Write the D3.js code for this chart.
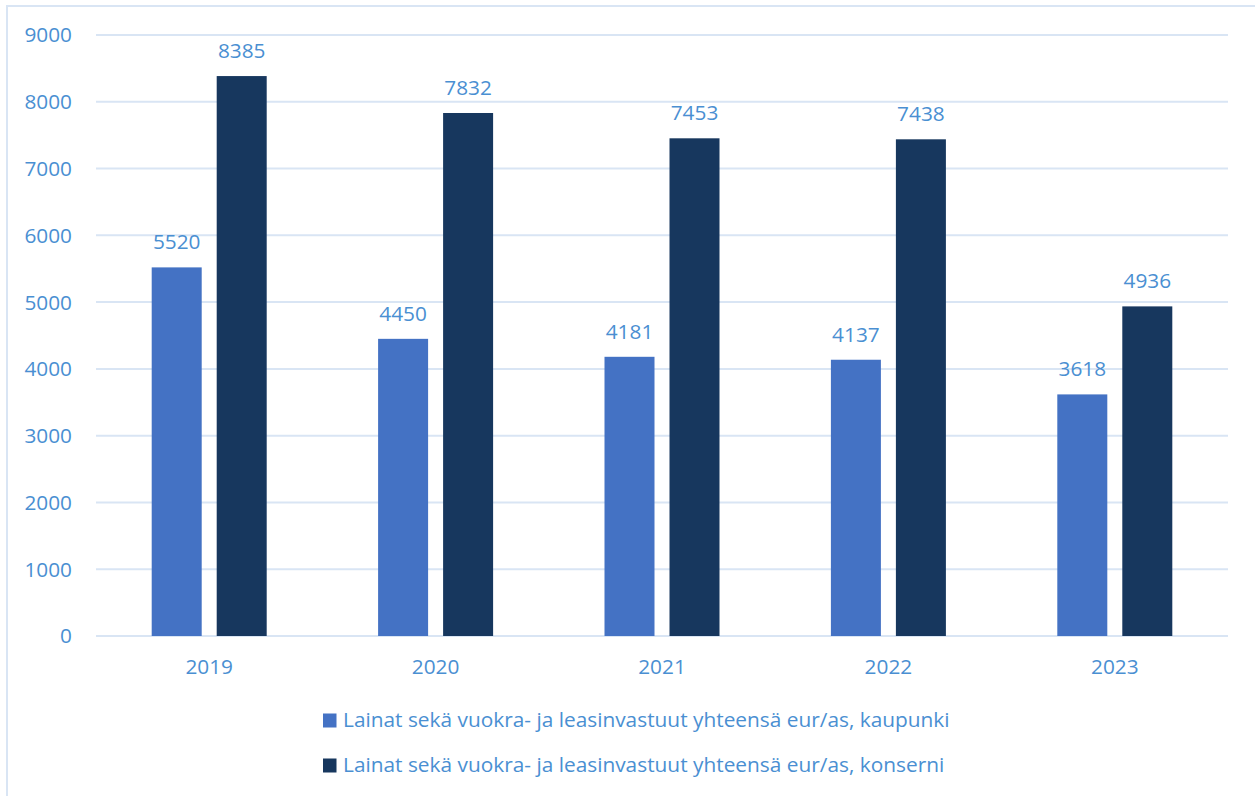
<!DOCTYPE html>
<html><head><meta charset="utf-8">
<script src="https://cdn.jsdelivr.net/npm/d3@7"></script>
<style>html,body{margin:0;padding:0;background:#fff;overflow:hidden}</style>
</head><body>
<svg id="c" width="1255" height="796"></svg>
<script>
const years = ["2019","2020","2021","2022","2023"];
const kaupunki = [5520, 4450, 4181, 4137, 3618];
const konserni = [8385, 7832, 7453, 7438, 4936];
const seriesNames = [
  "Lainat sekä vuokra- ja leasinvastuut yhteensä eur/as, kaupunki",
  "Lainat sekä vuokra- ja leasinvastuut yhteensä eur/as, konserni"
];
const seriesColors = ["#4472C4", "#17375E"];
const yTicks = [0,1000,2000,3000,4000,5000,6000,7000,8000,9000];

(function(){
const textColor = "#4a8fd2";
const gridColor = "#d9e5f4";
const font = "'Open Sans', Lato, sans-serif";
const svg = d3.select("#c");

svg.append("rect").attr("x",7).attr("y",6).attr("width",1300).attr("height",900)
  .attr("fill","none").attr("stroke",gridColor).attr("stroke-width",2);

const pL = 96, pR = 1228, pT = 35, pB = 636;
const x = d3.scaleBand().domain(years).range([pL,pR]);
const y = d3.scaleLinear().domain([0,9000]).range([pB,pT]);
const barW = 50, offset = 32.5;

svg.append("g").selectAll("line").data(yTicks).join("line")
  .attr("x1",pL).attr("x2",pR)
  .attr("y1",d=>y(d)).attr("y2",d=>y(d))
  .attr("stroke",gridColor).attr("stroke-width",2);

svg.append("g").selectAll("text").data(yTicks).join("text")
  .attr("x",72).attr("y",d=>y(d)).attr("dy","0.36em")
  .attr("text-anchor","end").attr("fill",textColor)
  .attr("font-family",font).attr("font-size",20.8)
  .text(d=>d);

svg.append("g").selectAll("text").data(years).join("text")
  .attr("x",d=>x(d)+x.bandwidth()/2).attr("y",674)
  .attr("text-anchor","middle").attr("fill",textColor)
  .attr("font-family",font).attr("font-size",20.8)
  .text(d=>d);

const series = [kaupunki, konserni];
series.forEach((vals, si) => {
  const g = svg.append("g");
  const cx = i => x(years[i]) + x.bandwidth()/2 + (si===0 ? -offset : offset);
  g.selectAll("rect").data(vals).join("rect")
    .attr("x",(d,i)=>cx(i)-barW/2).attr("width",barW)
    .attr("y",d=>y(d)).attr("height",d=>pB-y(d))
    .attr("fill",seriesColors[si]);
  g.selectAll("text").data(vals).join("text")
    .attr("x",(d,i)=>cx(i)).attr("y",d=>y(d)-18)
    .attr("text-anchor","middle").attr("fill",textColor)
    .attr("font-family",font).attr("font-size",20.8)
    .text(d=>d);
});

const lg = svg.append("g");
const legY = [727, 772];
seriesNames.forEach((n,i)=>{
  lg.append("rect").attr("x",323).attr("y",legY[i]-13.5).attr("width",13.5).attr("height",14)
    .attr("fill",seriesColors[i]);
  lg.append("text").attr("x",343).attr("y",legY[i])
    .attr("fill",textColor).attr("font-family",font).attr("font-size",20.85)
    .text(n);
});
})();
</script>
</body></html>
